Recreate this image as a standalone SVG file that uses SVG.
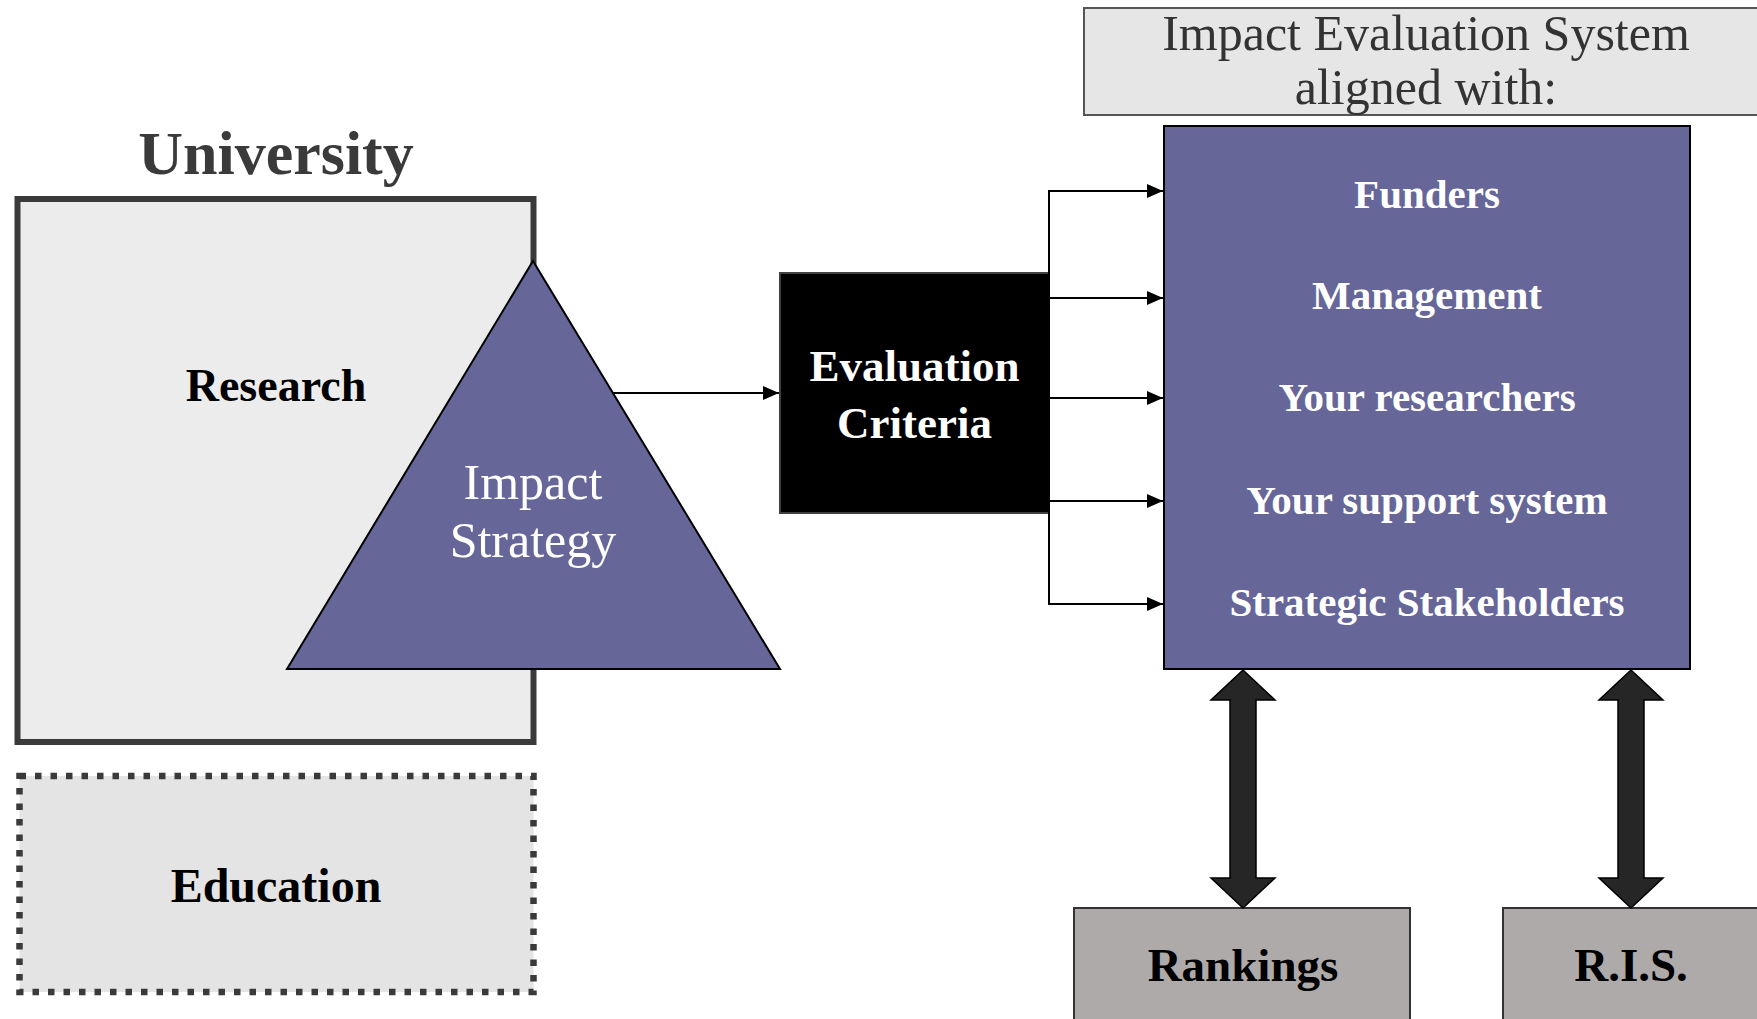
<svg xmlns="http://www.w3.org/2000/svg" width="1757" height="1019" viewBox="0 0 1757 1019">
  <style>
    text { font-family: "Liberation Serif", "DejaVu Serif", serif; text-anchor: middle; }
    .b { font-weight: bold; }
    .w { fill: #ffffff; }
    .k { fill: #000000; }
    .conn { stroke: #000000; stroke-width: 2; fill: none; }
    .dbl { fill: #262626; stroke: #000000; stroke-width: 1.5; }
  </style>
  <defs>
    <marker id="ah" markerUnits="userSpaceOnUse" markerWidth="16" markerHeight="14" refX="16" refY="7" orient="auto">
      <path d="M0,0 L16,7 L0,14 z" fill="#000000"/>
    </marker>
  </defs>
  <rect width="1757" height="1019" fill="#ffffff"/>

  <g id="university-label">
    <text x="276" y="174" class="b" font-size="62" fill="#3a3a3a">University</text>
  </g>

  <g id="university">
    <rect x="17.5" y="199" width="516" height="543" fill="#ececec" stroke="#3a3a3a" stroke-width="6"/>
    <text x="276" y="401" class="b k" font-size="46">Research</text>
  </g>

  <g id="education">
    <rect x="19.5" y="776" width="514" height="216" fill="#e4e4e4" stroke="#3a3a3a" stroke-width="6.5" stroke-dasharray="6.5 9"/>
    <text x="276" y="902" class="b k" font-size="48">Education</text>
  </g>

  <g id="impact-strategy">
    <polygon points="533,261 780,669 287,669" fill="#666699" stroke="#000000" stroke-width="2" stroke-linejoin="miter"/>
    <text x="533" y="499" class="w" font-size="50">Impact</text>
    <text x="533" y="557" class="w" font-size="50">Strategy</text>
  </g>

  <g id="evaluation-criteria">
    <rect x="780" y="273" width="269" height="240" fill="#000000" stroke="#404040" stroke-width="2"/>
    <text x="914.5" y="381" class="b w" font-size="45">Evaluation</text>
    <text x="914.5" y="438" class="b w" font-size="45">Criteria</text>
  </g>

  <g id="header">
    <rect x="1084" y="8" width="690" height="107" fill="#e6e6e6" stroke="#555555" stroke-width="2"/>
    <text x="1426" y="50" font-size="50" fill="#333333">Impact Evaluation System</text>
    <text x="1426" y="104" font-size="50" fill="#333333">aligned with:</text>
  </g>

  <g id="stakeholders">
    <rect x="1164" y="126" width="526" height="543" fill="#666699" stroke="#000000" stroke-width="2"/>
    <text x="1427" y="208" class="b w" font-size="41">Funders</text>
    <text x="1427" y="309" class="b w" font-size="41">Management</text>
    <text x="1427" y="411" class="b w" font-size="41">Your researchers</text>
    <text x="1427" y="514" class="b w" font-size="41">Your support system</text>
    <text x="1427" y="616" class="b w" font-size="41">Strategic Stakeholders</text>
  </g>

  <g id="rankings">
    <rect x="1074" y="908" width="336" height="130" fill="#aeaaaa" stroke="#333333" stroke-width="2"/>
    <text x="1243" y="981" class="b k" font-size="47">Rankings</text>
  </g>

  <g id="ris">
    <rect x="1503" y="908" width="270" height="130" fill="#aeaaaa" stroke="#333333" stroke-width="2"/>
    <text x="1631" y="981" class="b k" font-size="47">R.I.S.</text>
  </g>

  <g id="connectors">
    <line class="conn" x1="612" y1="393" x2="779" y2="393" marker-end="url(#ah)"/>
    <line class="conn" x1="1049" y1="190" x2="1049" y2="605"/>
    <line class="conn" x1="1049" y1="191" x2="1163" y2="191" marker-end="url(#ah)"/>
    <line class="conn" x1="1049" y1="298" x2="1163" y2="298" marker-end="url(#ah)"/>
    <line class="conn" x1="1049" y1="398" x2="1163" y2="398" marker-end="url(#ah)"/>
    <line class="conn" x1="1049" y1="501" x2="1163" y2="501" marker-end="url(#ah)"/>
    <line class="conn" x1="1049" y1="604" x2="1163" y2="604" marker-end="url(#ah)"/>
    <polygon class="dbl" points="1243,670 1275,700 1256,700 1256,878 1275,878 1243,908 1211,878 1230,878 1230,700 1211,700"/>
    <polygon class="dbl" points="1631,670 1663,700 1644,700 1644,878 1663,878 1631,908 1599,878 1618,878 1618,700 1599,700"/>
  </g>
</svg>
